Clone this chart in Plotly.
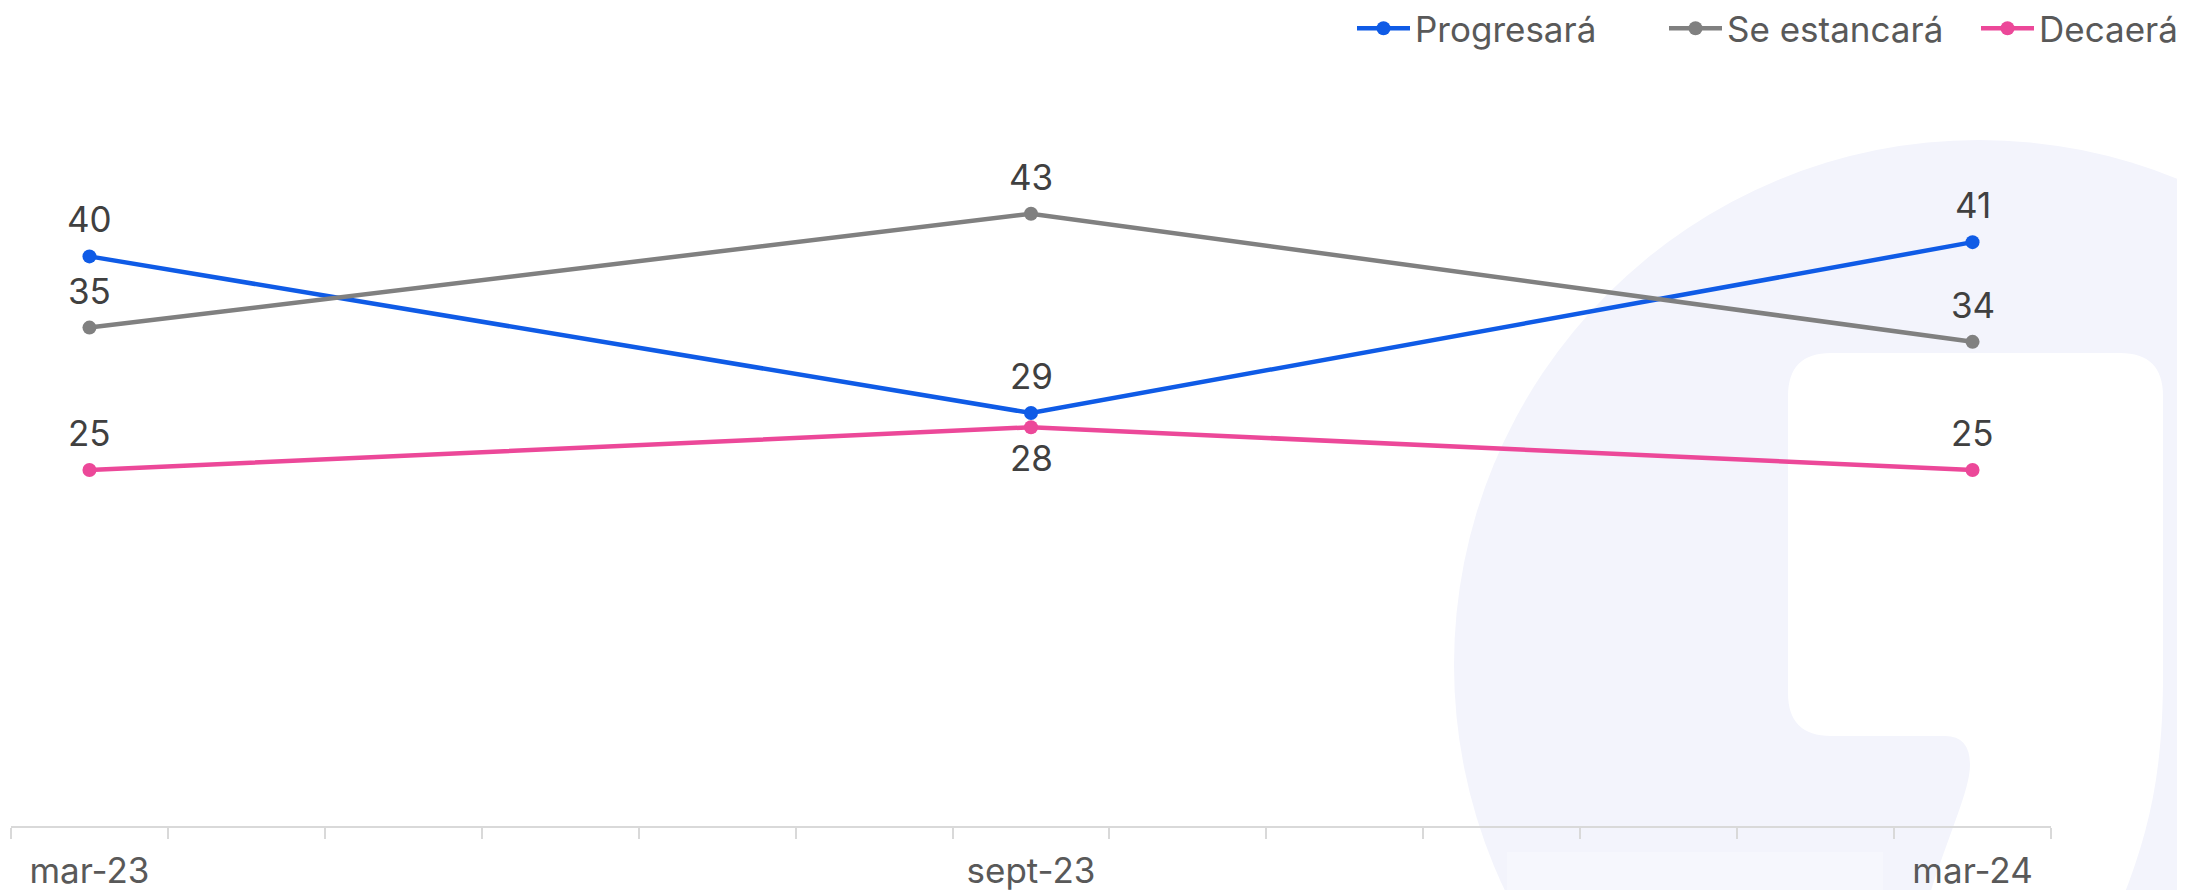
import plotly.graph_objects as go

# meses del eje (13 categorias, solo se rotulan 3)
meses = ['mar-23', 'abr-23', 'may-23', 'jun-23', 'jul-23', 'ago-23', 'sept-23',
         'oct-23', 'nov-23', 'dic-23', 'ene-24', 'feb-24', 'mar-24']
fechas = ['mar-23', 'sept-23', 'mar-24']

progresara = [40, 29, 41]
estancara = [35, 43, 34]
decaera = [25, 28, 25]

series = [
    ('Progresará', progresara, '#0F5BE6', ['top'] * 3),
    ('Se estancará', estancara, '#808080', ['top'] * 3),
    ('Decaerá', decaera, '#EC4899', ['top', 'bottom', 'top']),
]

W, H = 2185, 890
OFF = 8  # margen del body de la pagina
ml, mr, mt, mb = 3, 142, 106, 72
pw, ph = W - ml - mr, H - mt - mb
FONT = 'Inter, Roboto, sans-serif'


def fx(p):
    return (p - OFF - ml) / pw


def fy(p):
    return (H - mb - (p - OFF)) / ph


x_idx = [meses.index(f) for f in fechas]

fig = go.Figure()
annotations = []
for nombre, vals, color, pos in series:
    fig.add_trace(go.Scatter(
        x=x_idx, y=vals, name=nombre, mode='lines+markers',
        line=dict(color=color, width=4.5),
        marker=dict(color=color, size=14),
        cliponaxis=False))
    for xi, v, p in zip(x_idx, vals, pos):
        annotations.append(dict(
            x=xi, y=v, text=str(v), showarrow=False,
            yanchor='bottom' if p == 'top' else 'top',
            yshift=14 if p == 'top' else -8,
            font=dict(family=FONT, size=35, color='#404040')))

# marca de agua de fondo
lav = '#F3F4FC'
shapes = [
    dict(type='circle', xref='paper', yref='paper', layer='below',
         x0=fx(1979 - 525), x1=fx(1979 + 525), y0=fy(665 + 525), y1=fy(665 - 525),
         fillcolor=lav, line_width=0),
]
pts = [('M', 1831, 353), ('L', 2120, 353), ('Q', 2163, 353, 2163, 396), ('L', 2163, 676),
       ('C', 2163, 770, 2150, 830, 2122, 900), ('L', 1928, 900),
       ('C', 1950, 830, 1970, 790, 1970, 765), ('Q', 1970, 736, 1945, 736),
       ('L', 1831, 736), ('Q', 1788, 736, 1788, 693), ('L', 1788, 396),
       ('Q', 1788, 353, 1831, 353)]
path = ''
for p in pts:
    cmd, coords = p[0], p[1:]
    xy = []
    for i in range(0, len(coords), 2):
        xy.append(f'{fx(coords[i]):.5f},{fy(coords[i + 1]):.5f}')
    path += cmd + ' ' + ' '.join(xy) + ' '
path += 'Z'
shapes.append(dict(type='path', xref='paper', yref='paper', layer='below',
                   path=path, fillcolor='white', line_width=0))
shapes.append(dict(type='rect', xref='paper', yref='paper', layer='below',
                   x0=fx(1507), x1=fx(1883), y0=fy(905), y1=fy(852),
                   fillcolor='rgba(255,255,255,0.3)', line_width=0))

fig.update_layout(
    width=W, height=H,
    margin=dict(l=ml, r=mr, t=mt, b=mb, autoexpand=False),
    paper_bgcolor='white', plot_bgcolor='rgba(0,0,0,0)',
    font=dict(family=FONT, color='#595959'),
    showlegend=True,
    legend=dict(orientation='h', xanchor='left', x=fx(1352), yanchor='top', y=fy(-1),
                font=dict(size=35, color='#595959'), bgcolor='rgba(0,0,0,0)',
                itemwidth=53, entrywidth=244),
    shapes=shapes,
    annotations=annotations,
    xaxis=dict(range=[-0.5, 12.5], tickvals=x_idx, ticktext=fechas, ticks='',
               tickfont=dict(size=35, color='#595959'), showgrid=False, zeroline=False,
               showline=True, linecolor='#D9D9D9', linewidth=2,
               minor=dict(tick0=-0.5, dtick=1, ticks='outside', ticklen=11,
                          tickcolor='#D9D9D9', tickwidth=1.5, showgrid=False),
               ticklabelstandoff=13, automargin=False),
    yaxis=dict(range=[0, 50], visible=False, showgrid=False, zeroline=False),
)

fig.write_html('out.html')
